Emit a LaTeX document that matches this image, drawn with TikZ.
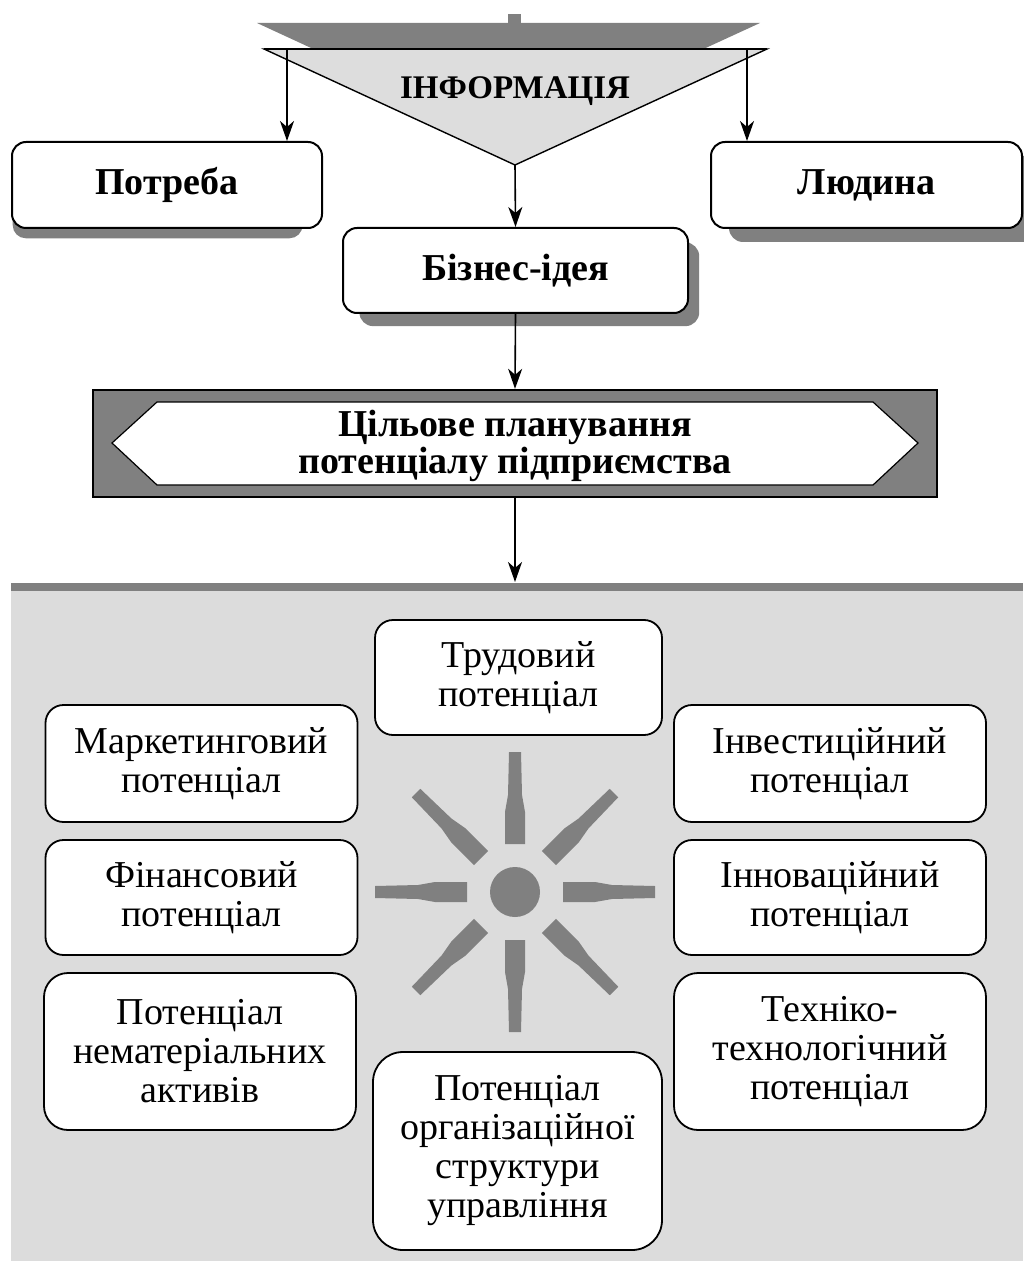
\documentclass[tikz,border=0pt]{standalone}
\usepackage{fontspec}
\setmainfont{Liberation Serif}
\usetikzlibrary{arrows.meta, shadows}

\definecolor{shadegray}{HTML}{808080}
\definecolor{panelgray}{HTML}{DCDCDC}
\definecolor{trigray}{HTML}{DDDDDD}

\tikzset{
  arr/.style={-{Stealth[length=10pt, width=7pt, inset=3pt]}, line width=0.8pt},
  dropsh/.style={drop shadow={shadow yshift=-7pt, fill=shadegray, opacity=1, #1}},
  headbox/.style={draw, line width=1pt, fill=white, rounded corners=7pt,
    minimum height=43pt, font=\fontsize{19}{19}\selectfont\bfseries},
  potbox/.style={draw, line width=0.9pt, fill=white, rounded corners=9pt,
    minimum width=156pt, minimum height=58pt, inner sep=2pt, align=center,
    font=\fontsize{19}{19.5}\selectfont},
}

\begin{document}
\begin{tikzpicture}[x=0.5pt, y=-0.5pt]
  \useasboundingbox (0,0) rectangle (1023,1261);

  % lower panel
  \fill[panelgray] (11,583) rectangle (1023,1261);
  \fill[shadegray] (11,583) rectangle (1023,591);

  % information triangle
  \fill[shadegray] (508,14) rectangle (521,23);
  \fill[shadegray] (257,23) -- (760,23) -- (508,139) -- cycle;
  \draw[fill=trigray, line width=0.7pt] (264,49) -- (767,49) -- (515,165) -- cycle;
  \draw[line width=1.2pt] (264,49) -- (767,49);
  \node[font=\fontsize{16.5}{16.5}\selectfont\bfseries, anchor=base] (info) at (515,99) {ІНФОРМАЦІЯ};
  \coordinate (infoL) at (287,50);
  \coordinate (infoR) at (747,50);
  \coordinate (apex) at (515,165);

  \node[headbox, dropsh={shadow xshift=-5pt, shadow scale=0.935}, minimum width=155pt] (potreba) at (167,185) {Потреба};
  \node[headbox, dropsh={shadow xshift=9pt}, minimum width=155.5pt] (lyudyna) at (866.5,185) {Людина};
  \node[headbox, dropsh={shadow xshift=7pt, shadow scale=0.985}, minimum width=172.5pt, minimum height=42.5pt] (idea) at (515.5,270.5) {Бізнес-ідея};

  % planning banner
  \node[draw, line width=1.2pt, fill=shadegray, minimum width=422pt, minimum height=53.5pt] (banner) at (515,443.5) {};
  \draw[fill=white, line width=0.6pt] (112,443) -- (157,402) -- (873,402) -- (918,443) -- (873,485) -- (157,485) -- cycle;
  \node[font=\fontsize{19}{17}\selectfont\bfseries, align=center] (plan) at (515,446) {Цільове планування\\потенціалу підприємства};
  \coordinate (paneltop) at (515,582);

  % sun in the middle
  \coordinate (sun) at (515,892);
  \fill[shadegray] (sun) circle[radius=12.5pt];
  \foreach \a in {0,45,...,315}
    \fill[shadegray, shift={(sun)}, rotate=\a] (48,-10) -- (80,-10) -- (97,-7) -- (140,-6) -- (140,6) -- (97,7) -- (80,10) -- (48,10) -- cycle;

  \node[potbox, minimum width=143.5pt, minimum height=57.5pt] (trud) at (518.5,677.5) {Трудовий\\потенціал};
  \node[potbox, minimum height=58.5pt] (market) at (201.5,763.5) {Маркетинговий\\потенціал};
  \node[potbox, minimum height=58.5pt] (invest) at (830,763.5) {Інвестиційний\\потенціал};
  \node[potbox, minimum height=57.5pt] (finans) at (201.5,897.5) {Фінансовий\\потенціал};
  \node[potbox, minimum height=57.5pt] (innov) at (830,897.5) {Інноваційний\\потенціал};
  \node[potbox, minimum height=78.5pt, rounded corners=12pt] (nemat) at (200,1051.5) {Потенціал\\нематеріальних\\активів};
  \node[potbox, minimum height=78.5pt, rounded corners=12pt] (tech) at (830,1051.5) {Техніко-\\технологічний\\потенціал};
  \node[potbox, minimum width=144.5pt, minimum height=99pt, rounded corners=15pt] (org) at (517.5,1151) {Потенціал\\організаційної\\структури\\управління};

  \draw[arr] (infoL) -- (infoL |- potreba.north);
  \draw[arr] (infoR) -- (infoR |- lyudyna.north);
  \draw[arr] (apex) -- (idea.north);
  \draw[arr] (idea.south) -- (banner.north);
  \draw[arr] (banner.south) -- (paneltop);
\end{tikzpicture}
\end{document}
